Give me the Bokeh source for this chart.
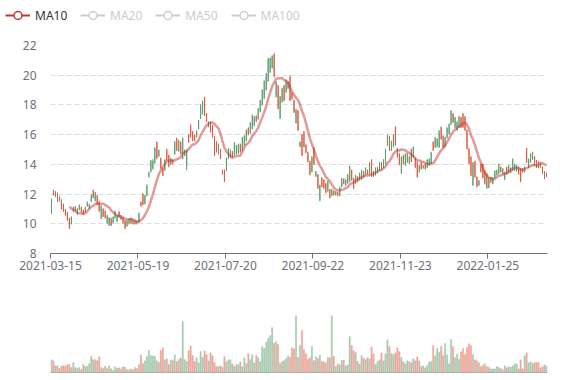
import numpy as np
import pandas as pd
from bokeh.plotting import figure
from bokeh.layouts import column
from bokeh.models import (ColumnDataSource, FixedTicker, Legend, LegendItem,
                          Span, Range1d)
from bokeh.embed import file_html
from bokeh.resources import INLINE

# ---------------- data ----------------
tick_index = [0, 44, 88, 132, 176, 220]
tick_labels = ["2021-03-15", "2021-05-19", "2021-07-20",
               "2021-09-22", "2021-11-23", "2022-01-25"]
legend_names = ["MA10", "MA20", "MA50", "MA100"]

open_ = [
    10.75, 12.25, 12.10, 11.55, 11.75, 11.55, 11.30, 10.95, 10.75, 10.35,
    10.00, 10.85, 11.15, 10.70, 10.95, 11.10, 10.90, 10.80, 11.20, 11.05,
    11.50, 12.25, 11.55, 11.90, 11.50, 10.35, 11.00, 10.85, 10.05, 9.90,
    10.35, 10.05, 10.40, 10.15, 10.80, 10.30, 10.40, 10.20, 9.85, 10.00,
    10.35, 10.00, 10.20, 10.15, 10.10, 11.45, 12.00, 11.35, 11.90, 13.20,
    13.50, 13.70, 14.10, 15.50, 14.55, 14.40, 13.70, 13.60, 15.00, 14.60,
    14.00, 14.30, 14.70, 15.75, 14.90, 15.50, 14.40, 14.60, 13.90, 16.00,
    16.60, 16.20, 15.95, 15.85, 16.40, 17.10, 17.40, 18.50, 17.40, 16.55,
    16.85, 16.60, 15.85, 15.50, 14.70, 15.00, 13.60, 13.60, 13.60, 14.40,
    14.50, 14.85, 14.65, 14.70, 14.75, 15.35, 14.95, 15.30, 15.60, 16.45,
    16.10, 16.40, 16.60, 17.25, 17.05, 17.55, 18.00, 18.45, 19.00, 19.60,
    20.20, 20.50, 21.40, 18.55, 19.30, 17.10, 18.20, 19.30, 18.85, 19.10,
    19.90, 18.80, 18.30, 16.80, 17.60, 15.20, 16.00, 16.20, 15.30, 14.80,
    14.20, 13.50, 15.10, 13.20, 13.30, 11.60, 13.10, 12.95, 12.70, 12.20,
    12.30, 11.90, 12.20, 11.95, 12.10, 11.90, 12.50, 13.00, 12.60, 12.75,
    12.85, 13.60, 13.05, 12.75, 13.15, 12.95, 13.00, 13.50, 13.30, 13.60,
    13.35, 14.30, 13.50, 13.30, 13.45, 13.60, 14.10, 13.80, 14.05, 15.30,
    15.85, 14.95, 15.20, 16.50, 15.05, 14.70, 13.40, 14.60, 13.95, 14.15,
    14.05, 15.00, 14.50, 14.40, 14.15, 13.50, 14.10, 13.75, 14.00, 13.80,
    13.95, 14.05, 15.50, 15.15, 15.20, 15.15, 16.50, 15.90, 15.20, 15.80,
    16.05, 16.70, 17.40, 16.50, 16.30, 16.50, 17.15, 17.40, 17.20, 16.30,
    15.05, 14.50, 12.60, 14.20, 13.15, 12.60, 14.00, 14.00, 13.55, 12.40,
    13.10, 12.80, 12.70, 13.10, 13.30, 13.40, 13.80, 13.35, 13.00, 13.80,
    13.45, 13.45, 13.60, 13.60, 13.55, 13.80, 13.70, 13.70, 13.50, 15.05,
    13.80, 14.15, 14.35, 14.50, 14.25, 14.15, 13.80, 13.80, 13.50, 13.20,
]
close_ = [
    11.65, 11.95, 11.85, 12.05, 11.55, 11.00, 10.85, 10.60, 10.25, 9.75,
    10.45, 11.10, 10.90, 11.00, 11.25, 10.80, 10.65, 11.10, 11.45, 11.30,
    11.90, 11.75, 12.10, 11.30, 10.85, 11.20, 10.50, 10.40, 10.55, 10.40,
    9.90, 10.45, 10.85, 10.55, 10.45, 10.55, 10.05, 9.70, 10.20, 10.30,
    10.05, 10.25, 10.00, 10.00, 10.70, 11.20, 11.30, 11.90, 12.60, 13.45,
    14.25, 14.25, 15.10, 14.40, 14.95, 13.75, 13.25, 14.30, 14.30, 13.85,
    14.40, 14.05, 15.50, 14.95, 15.60, 14.75, 15.75, 14.95, 14.95, 15.50,
    15.85, 15.60, 15.60, 16.25, 16.95, 18.00, 18.25, 17.30, 16.90, 16.85,
    16.20, 15.85, 14.60, 14.85, 15.35, 14.40, 13.35, 12.85, 14.40, 15.05,
    14.95, 14.50, 15.45, 15.25, 15.35, 14.85, 15.80, 15.90, 16.30, 16.00,
    16.80, 17.30, 17.20, 16.90, 17.75, 18.30, 19.00, 19.60, 20.10, 21.10,
    21.15, 21.30, 19.90, 19.55, 17.75, 18.55, 19.10, 18.30, 19.65, 19.55,
    18.30, 18.40, 17.50, 17.70, 16.30, 15.50, 14.60, 15.20, 14.80, 14.20,
    13.30, 14.50, 14.00, 13.50, 12.40, 12.60, 12.50, 12.40, 12.10, 12.85,
    11.75, 12.30, 11.95, 12.15, 11.90, 12.45, 13.05, 12.70, 12.95, 13.30,
    13.85, 12.95, 12.40, 13.25, 12.85, 13.40, 13.60, 13.15, 13.75, 13.35,
    14.10, 13.20, 13.20, 13.75, 13.80, 14.10, 13.70, 14.30, 15.00, 15.95,
    14.95, 15.55, 16.00, 15.30, 14.50, 14.00, 14.50, 14.05, 14.70, 14.70,
    14.50, 14.20, 15.15, 13.80, 13.15, 13.90, 13.70, 13.90, 13.70, 14.30,
    14.35, 14.80, 14.95, 15.80, 15.70, 16.25, 15.70, 15.15, 15.80, 16.45,
    16.70, 17.60, 16.85, 17.15, 16.85, 17.20, 16.50, 16.50, 16.30, 15.05,
    14.05, 13.25, 14.10, 13.15, 12.50, 12.90, 13.50, 13.10, 12.70, 13.35,
    12.45, 13.10, 13.10, 13.55, 13.60, 14.00, 13.50, 13.70, 13.45, 13.35,
    13.90, 13.75, 14.35, 14.00, 13.90, 13.35, 12.85, 13.50, 13.80, 14.15,
    14.35, 14.70, 14.80, 13.95, 13.80, 13.80, 14.05, 13.40, 13.05, 13.40,
]
low_ = [
    10.65, 11.90, 11.80, 11.45, 11.50, 10.95, 10.80, 10.55, 10.20, 9.65,
    9.95, 10.80, 10.85, 10.60, 10.90, 10.75, 10.60, 10.75, 11.15, 11.00,
    11.45, 11.70, 11.50, 11.25, 10.80, 10.30, 10.45, 10.35, 10.00, 9.85,
    9.85, 10.00, 10.35, 10.10, 10.40, 10.25, 10.00, 9.65, 9.80, 9.95,
    10.00, 9.95, 9.95, 9.95, 10.05, 11.15, 11.25, 11.30, 11.85, 13.10,
    13.45, 13.65, 14.05, 14.35, 14.50, 13.70, 13.20, 13.55, 14.25, 13.80,
    13.95, 14.00, 14.65, 14.90, 14.85, 14.70, 14.35, 14.55, 13.60, 15.45,
    15.80, 15.55, 15.55, 15.80, 16.35, 17.05, 17.35, 17.25, 16.85, 16.50,
    16.15, 15.80, 14.55, 14.80, 14.65, 14.35, 13.30, 12.80, 13.55, 14.35,
    14.45, 14.45, 14.60, 14.65, 14.70, 14.80, 14.90, 15.25, 15.55, 15.95,
    16.05, 16.35, 16.55, 16.85, 17.00, 17.50, 17.95, 18.40, 18.95, 19.55,
    20.15, 20.45, 19.85, 18.50, 17.70, 17.05, 18.15, 18.25, 18.80, 19.05,
    18.25, 18.35, 17.45, 16.75, 16.25, 15.15, 14.55, 15.15, 14.75, 14.15,
    13.25, 13.45, 13.95, 13.15, 12.35, 11.50, 12.45, 12.35, 12.05, 12.15,
    11.70, 11.85, 11.90, 11.90, 11.85, 11.85, 12.45, 12.65, 12.55, 12.70,
    12.80, 12.90, 12.35, 12.70, 12.80, 12.90, 12.95, 13.10, 13.25, 13.30,
    13.30, 13.15, 13.15, 13.25, 13.40, 13.55, 13.65, 13.75, 14.00, 15.25,
    14.90, 14.90, 15.15, 15.25, 14.45, 13.95, 13.35, 14.00, 13.90, 14.10,
    14.00, 14.15, 14.45, 13.75, 13.10, 13.45, 13.65, 13.70, 13.65, 13.75,
    13.90, 14.00, 14.90, 15.10, 15.15, 15.10, 15.65, 15.10, 15.15, 15.75,
    16.00, 16.65, 16.80, 16.45, 16.25, 16.45, 16.45, 16.45, 16.25, 15.00,
    14.00, 13.20, 12.55, 13.10, 12.45, 12.55, 13.45, 13.05, 12.65, 12.35,
    12.40, 12.75, 12.65, 13.05, 13.25, 13.35, 13.45, 13.30, 12.95, 13.30,
    13.40, 13.40, 13.55, 13.55, 13.50, 13.30, 12.80, 13.45, 13.45, 14.10,
    13.75, 14.10, 14.30, 13.90, 13.75, 13.75, 13.75, 13.35, 13.00, 13.15,
]
high_ = [
    11.70, 12.30, 12.20, 12.10, 11.85, 11.65, 11.35, 11.00, 10.80, 10.40,
    10.50, 11.15, 11.20, 11.05, 11.30, 11.15, 10.95, 11.15, 11.50, 11.35,
    12.00, 12.30, 12.15, 11.95, 11.55, 11.25, 11.05, 10.90, 10.60, 10.45,
    10.40, 10.50, 10.90, 10.60, 10.85, 10.60, 10.45, 10.25, 10.25, 10.35,
    10.40, 10.30, 10.25, 10.20, 10.75, 11.50, 12.05, 11.95, 12.65, 13.50,
    14.30, 14.35, 15.15, 15.55, 15.00, 14.45, 13.75, 14.35, 15.05, 14.65,
    14.45, 14.35, 15.55, 15.80, 15.65, 15.55, 15.80, 15.00, 15.00, 16.05,
    16.70, 16.25, 16.00, 16.30, 17.00, 18.05, 18.30, 18.55, 17.45, 16.90,
    16.90, 16.65, 15.90, 15.55, 15.40, 15.05, 13.65, 13.65, 14.45, 15.10,
    15.00, 14.90, 15.50, 15.30, 15.40, 15.40, 15.85, 15.95, 16.35, 16.50,
    16.85, 17.35, 17.25, 17.30, 17.80, 18.35, 19.05, 19.65, 20.15, 21.15,
    21.20, 21.35, 21.50, 19.60, 19.35, 18.60, 19.15, 19.35, 19.70, 19.60,
    20.00, 18.85, 18.35, 17.75, 17.65, 15.55, 16.05, 16.25, 15.35, 14.85,
    14.25, 14.55, 15.15, 13.55, 13.35, 12.65, 13.15, 13.00, 12.75, 12.90,
    12.35, 12.35, 12.25, 12.20, 12.15, 12.50, 13.10, 13.05, 13.00, 13.35,
    13.90, 13.65, 13.10, 13.30, 13.20, 13.45, 13.65, 13.55, 13.80, 13.65,
    14.15, 14.35, 13.55, 13.80, 13.85, 14.15, 14.15, 14.35, 15.05, 16.00,
    15.90, 15.60, 16.05, 16.55, 15.10, 14.75, 14.55, 14.65, 14.75, 14.75,
    14.55, 15.05, 15.20, 14.45, 14.20, 13.95, 14.15, 13.95, 14.05, 14.35,
    14.40, 14.85, 15.55, 15.85, 15.75, 16.30, 16.55, 15.95, 15.85, 16.50,
    16.75, 17.65, 17.45, 17.20, 16.90, 17.25, 17.20, 17.45, 17.25, 16.35,
    15.10, 14.55, 14.15, 14.25, 13.20, 12.95, 14.05, 14.05, 13.60, 13.40,
    13.15, 13.15, 13.15, 13.60, 13.65, 14.05, 13.85, 13.75, 13.50, 13.85,
    13.95, 13.80, 14.40, 14.05, 13.95, 13.85, 13.75, 13.75, 13.85, 15.10,
    14.40, 14.75, 14.85, 14.55, 14.30, 14.20, 14.10, 13.85, 13.55, 13.45,
]
volume = [
    12.7, 11.7, 6.7, 6.7, 4.0, 6.3, 7.0, 6.3, 8.0, 8.0,
    5.0, 10.0, 5.0, 4.0, 5.0, 3.0, 8.0, 6.3, 6.3, 9.0,
    16.3, 13.0, 13.0, 12.0, 15.7, 5.0, 4.0, 6.3, 4.0, 6.7,
    3.7, 2.3, 5.7, 4.3, 4.7, 3.7, 5.7, 5.3, 3.0, 2.7,
    3.7, 3.0, 5.0, 4.0, 8.0, 17.7, 9.0, 11.7, 16.0, 22.3,
    17.0, 16.7, 16.3, 11.7, 10.3, 22.3, 24.7, 12.7, 13.7, 8.0,
    12.7, 12.0, 17.7, 11.0, 13.0, 14.7, 51.0, 13.0, 11.0, 22.0,
    26.7, 17.0, 11.0, 15.0, 9.7, 21.0, 15.3, 21.7, 18.0, 11.7,
    19.7, 16.7, 10.0, 6.0, 6.0, 6.7, 5.3, 16.0, 10.7, 12.7,
    12.7, 8.7, 6.3, 8.0, 8.0, 10.7, 5.7, 14.7, 9.0, 19.0,
    13.0, 18.0, 9.7, 17.0, 15.0, 11.0, 26.0, 24.0, 30.3, 34.0,
    37.0, 45.0, 29.3, 31.0, 28.0, 9.3, 11.0, 12.0, 14.0,
    16.7, 15.3, 24.7, 23.7, 57.0, 15.3, 27.3, 42.0, 23.0, 19.0,
    13.3, 14.7, 26.3, 12.0, 15.7, 14.3, 17.7, 11.0, 10.7, 9.7,
    14.7, 15.0, 57.0, 16.3, 6.3, 8.7, 7.7, 12.3, 12.3, 6.7,
    7.7, 36.0, 27.0, 21.7, 20.0, 11.3, 8.7, 17.0, 14.3, 13.0,
    15.0, 13.7, 25.7, 18.7, 8.0, 11.0, 12.7, 19.7, 11.7, 18.7,
    32.7, 26.0, 19.0, 18.0, 19.7, 24.7, 21.0, 15.0, 10.7, 8.7,
    11.7, 10.7, 10.0, 13.7, 11.7, 15.7, 11.7, 6.0, 6.7, 4.7,
    7.0, 10.7, 11.0, 27.0, 16.7, 24.3, 20.3, 26.3, 17.0, 29.0,
    17.7, 8.7, 33.3, 26.0, 15.0, 18.3, 13.3, 20.7, 24.0, 18.0,
    25.0, 28.7, 27.0, 18.0, 12.7, 11.7, 9.7, 6.0, 7.3, 8.7,
    6.0, 5.3, 3.7, 3.7, 3.7, 6.0, 5.3, 4.0, 3.0, 6.7,
    4.7, 6.0, 5.3, 6.7, 8.7, 8.7, 3.7, 12.7, 3.7, 17.0,
    19.7, 9.7, 10.7, 9.3, 10.0, 10.0, 10.0, 5.0, 6.0, 7.7,
    6.5,
]

# ---------------- styles ----------------
UP = "#5b9e70"
DOWN = "#df5a42"
MA_COLOR = "#c23531"
AXIS = "#6E7079"
FONT = "Noto Sans"

n = len(close_)
o = np.array(open_)
c = np.array(close_)
up = c >= o
colors = np.where(up, UP, DOWN)
xs = np.arange(n) + 0.5
ma10 = pd.Series(c).rolling(10).mean().to_numpy()

src = ColumnDataSource(dict(
    x=xs, open=o, close=c, low=np.array(low_), high=np.array(high_),
    top=np.maximum(o, c), bottom=np.minimum(o, c), color=colors,
    vol=np.array(volume), ma=ma10,
))

LEFT, RIGHT = 50, 22
W = LEFT + 497 + RIGHT
LEG_H = 30

# ---------------- legend strip ----------------
pl = figure(width=W, height=LEG_H, x_range=Range1d(0, 10), y_range=Range1d(0, 10),
            output_backend="svg", toolbar_location=None,
            x_axis_location=None, y_axis_location=None,
            min_border=0, min_border_left=0, min_border_right=0,
            min_border_top=0, min_border_bottom=0, frame_align=False)
pl.outline_line_color = None
pl.grid.visible = False


def icon(color):
    # icon-only renderers, their points sit outside the visible range
    rl = pl.line([-20, -10], [-20, -10], line_color=color, line_width=2)
    rc = pl.scatter([-20], [-20], marker="circle", size=8, fill_color="white",
                    line_color=color, line_width=1.5)
    return [rl, rc]


leg_common = dict(orientation="horizontal", glyph_width=25, glyph_height=20,
                  label_standoff=5, padding=0, margin=0, spacing=13,
                  border_line_color=None, background_fill_alpha=0,
                  label_text_font=FONT, label_text_font_size="12px",
                  label_height=20)
leg1 = Legend(items=[LegendItem(label=legend_names[0], renderers=icon(MA_COLOR))],
              location=(5, 5), label_text_color="#333333", **leg_common)
leg2 = Legend(items=[LegendItem(label=nm, renderers=icon("#cccccc"))
                     for nm in legend_names[1:]],
              location=(80, 5), label_text_color="#cccccc", **leg_common)
pl.add_layout(leg1)
pl.add_layout(leg2)

# ---------------- price chart ----------------
x_range = Range1d(0, n)
TOP1, BOT1 = 45 - LEG_H, 40
p = figure(width=W, height=TOP1 + 208 + BOT1, x_range=x_range,
           y_range=Range1d(8, 22),
           output_backend="svg", toolbar_location=None,
           min_border_left=LEFT, min_border_right=RIGHT, min_border_top=TOP1,
           min_border_bottom=BOT1)
p.outline_line_color = None
p.background_fill_color = "white"
p.border_fill_color = "white"

p.xgrid.visible = False
p.ygrid.grid_line_color = "#dddddd"
p.ygrid.grid_line_dash = "5 3"
p.ygrid.grid_line_width = 1

p.yaxis.ticker = FixedTicker(ticks=[8, 10, 12, 14, 16, 18, 20, 22])
p.yaxis.axis_line_color = None
p.yaxis.major_tick_line_color = None
p.yaxis.minor_tick_line_color = None
p.yaxis.major_label_standoff = 8
p.yaxis.major_label_text_color = AXIS
p.yaxis.major_label_text_font = FONT
p.yaxis.major_label_text_font_size = "12px"

p.xaxis.ticker = FixedTicker(ticks=tick_index)
p.xaxis.major_label_overrides = {k: lab for k, lab in zip(tick_index, tick_labels)}
p.xaxis.axis_line_color = AXIS
p.xaxis.major_tick_line_color = AXIS
p.xaxis.major_tick_out = 5
p.xaxis.major_tick_in = 0
p.xaxis.minor_tick_line_color = None
p.xaxis.major_label_standoff = 2
p.xaxis.major_label_text_color = AXIS
p.xaxis.major_label_text_font = FONT
p.xaxis.major_label_text_font_size = "12px"

p.segment(x0="x", y0="low", x1="x", y1="high", source=src,
          line_color="color", line_width=1)
p.vbar(x="x", width=0.5, top="top", bottom="bottom", source=src,
       fill_color="color", line_color=None)
p.line(x="x", y="ma", source=src, line_color=MA_COLOR, line_alpha=0.5,
       line_width=2.5)

# ---------------- volume ----------------
p2 = figure(width=W, height=22 + 57 + 3, x_range=x_range,
            y_range=Range1d(0, 57),
            output_backend="svg", toolbar_location=None,
            x_axis_location=None, y_axis_location=None,
            min_border_left=LEFT, min_border_right=RIGHT, min_border_top=22,
            min_border_bottom=3)
p2.outline_line_color = None
p2.grid.visible = False
p2.vbar(x="x", width=0.75, top="vol", bottom=0, source=src,
        fill_color="color", fill_alpha=0.5, line_color="color",
        line_alpha=0.25, line_width=0.5)
p2.add_layout(Span(location=0, dimension="width", line_color=AXIS,
                   line_width=1))

layout = column(pl, p, p2, spacing=0)
open("out.html", "w").write(file_html(layout, INLINE))
